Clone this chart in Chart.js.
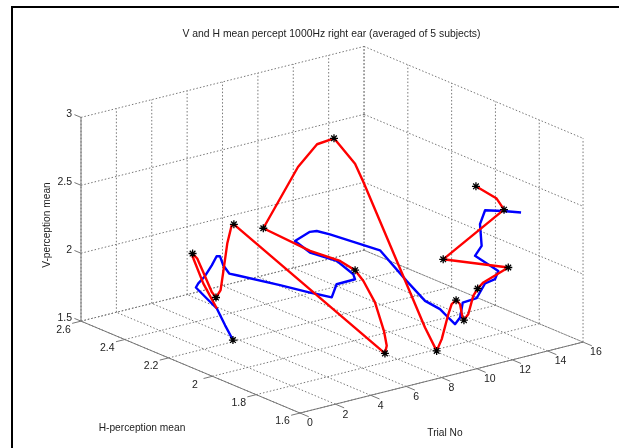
<!DOCTYPE html>
<html>
<head>
<meta charset="utf-8">
<title>V and H mean percept</title>
<script src="https://cdn.jsdelivr.net/npm/chart.js@4"></script>
<style>
	html, body { margin: 0; padding: 0; background: #fff; overflow: hidden; }
	canvas { display: block; }
</style>
</head>
<body>
<canvas id="percept" width="619" height="448"></canvas>
<script>
let trialTicks = [0, 2, 4, 6, 8, 10, 12, 14, 16];
let hTicks = [1.6, 1.8, 2, 2.2, 2.4, 2.6];
let vTicks = [1.5, 2, 2.5, 3];

let redTrial = [1.5, 1.7, 1.9, 2, 2.2, 2.4, 2.7, 3, 3.2, 3.4, 3.7, 3.9, 4, 5, 5.2, 5.4, 5.6, 5.8, 6, 6.2, 6.5, 7, 7.4, 7.6, 8, 8.2, 8.3, 8.7, 9, 9.2, 9.6, 9.8, 10, 10.2, 10.7, 11, 11.2, 11.6, 12, 12.2, 13, 14, 15, 15.4, 16];
let redH = [2.101, 2.179, 2.243, 2.252, 2.247, 2.236, 2.221, 2.226, 2.221, 2.225, 2.231, 2.227, 2.225, 1.616, 1.624, 1.653, 1.710, 1.779, 1.833, 1.918, 2.079, 2.333, 2.207, 2.136, 2.091, 2.011, 1.981, 1.732, 1.703, 1.696, 1.698, 1.699, 1.695, 1.693, 1.721, 1.740, 1.736, 1.746, 1.758, 1.748, 1.699, 2.077, 1.880, 1.946, 2.089];
let redV = [1.882, 2.007, 2.152, 2.168, 2.128, 2.030, 1.883, 1.829, 1.880, 2.005, 2.200, 2.331, 2.336, 1.765, 1.809, 1.893, 2.057, 2.162, 2.198, 2.202, 2.158, 2.136, 2.659, 2.868, 2.929, 2.790, 2.672, 1.757, 1.594, 1.679, 1.849, 1.915, 1.940, 1.905, 1.760, 1.730, 1.771, 1.885, 1.918, 1.963, 2.080, 1.852, 2.318, 2.342, 2.316];

let blueTrial = [1, 1.3, 1.5, 1.7, 2, 2.1, 2.4, 2.7, 3, 3.1, 3.3, 3.6, 4, 4.4, 4.8, 5, 5.2, 5.6, 5.8, 6, 6.3, 6.5, 6.8, 7, 7.3, 8, 8.5, 9, 9.4, 9.7, 10, 10.3, 10.6, 11, 11.4, 12, 12.3, 13, 13.5, 14, 14.5, 15, 16];
let blueH = [1.987, 2.047, 2.101, 2.163, 2.237, 2.234, 2.228, 2.221, 2.223, 2.216, 2.217, 2.214, 2.212, 2.047, 1.942, 1.859, 1.853, 1.801, 1.825, 1.917, 2.063, 2.148, 2.104, 2.089, 2.053, 1.881, 1.800, 1.756, 1.720, 1.699, 1.700, 1.701, 1.713, 1.682, 1.676, 1.679, 1.688, 1.851, 1.861, 1.909, 1.926, 1.884, 1.883];
let blueV = [1.743, 1.801, 1.882, 1.907, 1.928, 1.957, 2.004, 2.079, 2.135, 2.137, 2.063, 1.994, 1.970, 1.996, 1.999, 2.013, 2.107, 2.166, 2.180, 2.210, 2.163, 2.184, 2.271, 2.281, 2.271, 2.247, 2.060, 1.926, 1.877, 1.807, 1.760, 1.799, 1.891, 1.932, 2.030, 2.040, 2.085, 2.063, 2.113, 2.224, 2.299, 2.306, 2.263];

let starTrial = [1, 2, 3, 4, 5, 6, 7, 8, 9, 10, 11, 12, 13, 14, 15, 16];
let starH = [1.987, 2.252, 2.226, 2.225, 1.616, 1.833, 2.333, 2.091, 1.703, 1.695, 1.740, 1.758, 1.699, 2.077, 1.880, 2.089];
let starV = [1.743, 2.168, 1.829, 2.336, 1.765, 2.198, 2.136, 2.929, 1.594, 1.940, 1.730, 1.918, 2.080, 1.852, 2.318, 2.316];

// view of the 3d box, fixed like matlab's view()
function project(t, h, v) {
	let dh = h - 1.6;
	return {
		x: 300 + 17.69 * t - 219 * dh,
		y: 413 - 4.44 * t - 92 * dh - 136 * (v - 1.5)
	};
}

function path(trials, hs, vs) {
	let pts = [];
	for (let i = 0; i < trials.length; i++) {
		pts.push(project(trials[i], hs[i], vs[i]));
	}
	return pts;
}

// pushes one straight segment, with a gap after it
function seg(list, a, b) {
	list.push(project(a[0], a[1], a[2]));
	list.push(project(b[0], b[1], b[2]));
	list.push({ x: NaN, y: NaN });
}

let tMax = 16, hMin = 1.6, hMax = 2.6, vMin = 1.5, vMax = 3;
let gridPts = [];
let axisPts = [];

trialTicks.forEach((t) => {
	seg(gridPts, [t, hMin, vMin], [t, hMax, vMin]);
	seg(gridPts, [t, hMax, vMin], [t, hMax, vMax]);
	seg(axisPts, [t, hMin, vMin], [t, hMin - 0.04, vMin]);
});
hTicks.forEach((h) => {
	seg(gridPts, [0, h, vMin], [tMax, h, vMin]);
	seg(gridPts, [tMax, h, vMin], [tMax, h, vMax]);
	seg(axisPts, [0, h, vMin], [-0.5, h, vMin]);
});
vTicks.forEach((v) => {
	seg(gridPts, [0, hMax, v], [tMax, hMax, v]);
	seg(gridPts, [tMax, hMax, v], [tMax, hMin, v]);
	seg(axisPts, [0, hMax, v], [0, hMax + 0.03, v]);
});
seg(axisPts, [0, hMin, vMin], [tMax, hMin, vMin]);
seg(axisPts, [0, hMin, vMin], [0, hMax, vMin]);
seg(axisPts, [0, hMax, vMin], [0, hMax, vMax]);

let textFont = '"Liberation Sans", Arial, sans-serif';

let labelPlugin = {
	id: 'labels3d',
	beforeDatasetsDraw(chart) {
		let ctx = chart.ctx;
		ctx.save();
		ctx.strokeStyle = '#000';
		ctx.lineWidth = 2;
		ctx.beginPath();
		ctx.moveTo(12, 448);
		ctx.lineTo(12, 7);
		ctx.lineTo(619, 7);
		ctx.stroke();
		ctx.restore();
	},
	afterDraw(chart) {
		let ctx = chart.ctx;
		let sx = chart.scales.x, sy = chart.scales.y;
		function put(p, dx, dy, text, align) {
			ctx.textAlign = align;
			ctx.fillText(text, sx.getPixelForValue(p.x) + dx, sy.getPixelForValue(p.y) + dy);
		}
		ctx.save();
		ctx.fillStyle = '#222';
		ctx.font = '10.5px ' + textFont;
		ctx.textBaseline = 'middle';
		vTicks.forEach((v) => put(project(0, hMax, v), -9, -3.5, String(v), 'right'));
		hTicks.forEach((h) => put(project(0, h, vMin), -17.5, 8.5, String(h), 'center'));
		trialTicks.forEach((t) => put(project(t, hMin, vMin), 7, 10.5, String(t), 'left'));
		ctx.font = '10.2px ' + textFont;
		ctx.textAlign = 'center';
		ctx.fillText('H-perception mean', 142, 428);
		ctx.fillText('Trial No', 445, 433.5);
		ctx.translate(47.5, 225);
		ctx.rotate(-Math.PI / 2);
		ctx.fillText('V-perception mean', 0, 0);
		ctx.restore();
	}
};

var chartData = {
	datasets: [
		{
			label: 'Trials',
			data: path(starTrial, starH, starV),
			showLine: false,
			pointStyle: 'star',
			pointRadius: 4,
			pointBorderColor: '#000',
			pointBorderWidth: 1.3,
			order: 0
		},
		{
			label: 'Red',
			data: path(redTrial, redH, redV),
			showLine: true,
			borderColor: '#f00',
			borderWidth: 2.4,
			borderJoinStyle: 'round',
			pointRadius: 0,
			order: 1
		},
		{
			label: 'Blue',
			data: path(blueTrial, blueH, blueV),
			showLine: true,
			borderColor: '#00f',
			borderWidth: 2.4,
			borderJoinStyle: 'round',
			pointRadius: 0,
			order: 2
		},
		{
			label: 'Axes',
			data: axisPts,
			showLine: true,
			borderColor: '#777',
			borderWidth: 1,
			pointRadius: 0,
			order: 3
		},
		{
			label: 'Grid',
			data: gridPts,
			showLine: true,
			borderColor: '#777',
			borderWidth: 1,
			borderDash: [1.5, 2],
			pointRadius: 0,
			order: 4
		}
	]
};

var ctx = document.getElementById('percept');
var perceptChart = new Chart(ctx, {
	type: 'scatter',
	data: chartData,
	plugins: [labelPlugin],
	options: {
		responsive: false,
		animation: false,
		spanGaps: false,
		layout: { autoPadding: false, padding: { left: 44 } },
		plugins: {
			legend: { display: false },
			tooltip: { enabled: false },
			title: {
				display: true,
				text: 'V and H mean percept 1000Hz right ear (averaged of 5 subjects)',
				color: '#222',
				font: { family: textFont, size: 10.4, weight: 'normal', lineHeight: 1.2 },
				padding: { top: 28, bottom: 0 }
			}
		},
		scales: {
			x: { type: 'linear', display: false, min: 44, max: 619 },
			y: { type: 'linear', display: false, reverse: true, min: 40, max: 448 }
		}
	}
});
</script>
</body>
</html>
